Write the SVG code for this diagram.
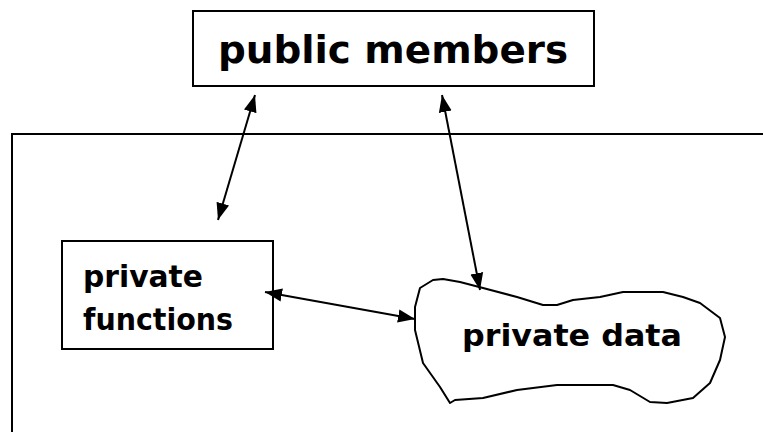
<svg xmlns="http://www.w3.org/2000/svg" width="763" height="432" viewBox="0 0 763 432">
<style>
.box{fill:#fff;stroke:#000;stroke-width:2}
.lbl{font-family:"DejaVu Sans","Liberation Sans",sans-serif;font-weight:bold;fill:#000}
.con{stroke:#000;stroke-width:2;fill:none;marker-start:url(#ah);marker-end:url(#ah)}
</style>
<defs>
<marker id="ah" markerUnits="userSpaceOnUse" markerWidth="18" markerHeight="14" viewBox="0 0 18 14" refX="17" refY="7" orient="auto-start-reverse">
<path d="M0,0.5 L17,7 L0,13.5 Z" fill="#000"/>
</marker>
</defs>
<rect width="763" height="432" fill="#fff"/>
<g id="container">
<rect class="box" x="12" y="134" width="800" height="400"/>
</g>
<g id="public-members">
<rect class="box" x="193" y="11" width="401" height="75"/>
<text class="lbl" x="218" y="63" font-size="37" textLength="350" lengthAdjust="spacingAndGlyphs">public members</text>
</g>
<g id="private-functions">
<rect class="box" x="62" y="241" width="211" height="108"/>
<text class="lbl" x="83" y="287" font-size="30" textLength="120" lengthAdjust="spacingAndGlyphs">private</text>
<text class="lbl" x="83" y="330" font-size="30" textLength="150" lengthAdjust="spacingAndGlyphs">functions</text>
</g>
<g id="private-data">
<path class="box" d="M433,280 L420,288 L415,307 L415,330 L423,363 L440,387 L450,403 L455,400 L483,398 L517,390 L557,385 L613,385 L630,390 L650,402 L667,403 L693,398 L710,383 L720,360 L725,337 L720,318 L700,303 L683,297 L663,292 L623,292 L600,297 L573,300 L557,305 L543,305 L517,297 L483,288 L460,282 L443,279 Z" stroke-linejoin="round"/>
<text class="lbl" x="462" y="346" font-size="30" textLength="220" lengthAdjust="spacingAndGlyphs">private data</text>
</g>
<g id="connectors">
<line class="con" x1="255" y1="95" x2="218" y2="220"/>
<line class="con" x1="442" y1="95" x2="480" y2="290"/>
<line class="con" x1="265" y1="292" x2="415" y2="319"/>
</g>
</svg>
